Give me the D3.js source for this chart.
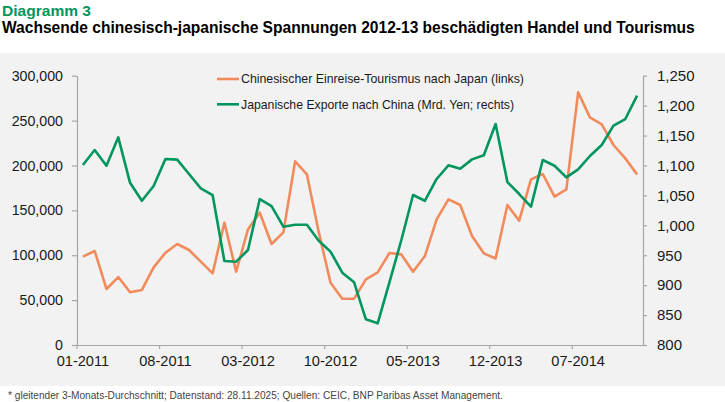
<!DOCTYPE html>
<html><head><meta charset="utf-8">
<script src="https://cdn.jsdelivr.net/npm/d3@7"></script>
<style>
html,body{margin:0;padding:0;background:#fff;}
text{font-family:"Liberation Sans",Arial,sans-serif;}
</style></head>
<body>
<svg id="c" width="725" height="402"></svg>
<script>
const months = ["01-2011","02-2011","03-2011","04-2011","05-2011","06-2011","07-2011","08-2011","09-2011","10-2011","11-2011","12-2011",
"01-2012","02-2012","03-2012","04-2012","05-2012","06-2012","07-2012","08-2012","09-2012","10-2012","11-2012","12-2012",
"01-2013","02-2013","03-2013","04-2013","05-2013","06-2013","07-2013","08-2013","09-2013","10-2013","11-2013","12-2013",
"01-2014","02-2014","03-2014","04-2014","05-2014","06-2014","07-2014","08-2014","09-2014","10-2014","11-2014","12-2014"];
const xTickLabels = ["01-2011","08-2011","03-2012","10-2012","05-2013","12-2013","07-2014"];
const tourism = [98400,104700,62400,75700,58700,61300,86500,102800,112500,105800,92800,79800,
136300,81700,128800,147400,112500,125500,204600,190000,126000,69400,51600,51600,
73100,80900,102500,101000,81700,99100,140000,162300,156000,121400,102100,96300,
156000,138500,184500,190500,165200,173400,281400,253600,245800,222800,207900,190000];
const exportsCN = [1100.7,1125.8,1099.6,1147,1071,1041,1065.6,1110.8,1109.7,1085.7,1061.8,1050.6,
940.3,939.2,958.7,1043.9,1032.2,997.7,1001,1001,974.3,956,920.9,904.7,
842.9,836.2,905,975,1050.6,1041,1077.4,1100.2,1094.6,1110.2,1117,1169.3,
1072.3,1052.3,1031.1,1109.1,1099.6,1080.1,1093.5,1115.8,1134.2,1166.5,1177.6,1216.6];
const leftTicks = [0,50000,100000,150000,200000,250000,300000];
const rightTicks = [800,850,900,950,1000,1050,1100,1150,1200,1250];
const legendLabels = ["Chinesischer Einreise-Tourismus nach Japan (links)","Japanische Exporte nach China (Mrd. Yen; rechts)"];
const titleSmall = "Diagramm 3";
const title = "Wachsende chinesisch-japanische Spannungen 2012-13 beschädigten Handel und Tourismus";
const footnote = "* gleitender 3-Monats-Durchschnitt; Datenstand: 28.11.2025; Quellen: CEIC, BNP Paribas Asset Management.";

const ORANGE = "#F28B5B", GREEN = "#00965E", AXIS = "#A6A6A6", TXT = "#1a1a1a";
const svg = d3.select("#c");

function fit(sel, target){
  const n = sel.node(); const w = n.getComputedTextLength();
  const fs = parseFloat(sel.attr("font-size"));
  sel.attr("font-size", (fs*target/w).toFixed(2));
}

// background panel
svg.append("rect").attr("x",0).attr("y",53).attr("width",725).attr("height",333).attr("fill","#F2F2F2");

// titles
fit(svg.append("text").attr("x",2).attr("y",16).attr("font-size",15).attr("font-weight","bold").attr("fill",GREEN).text(titleSmall), 89);
fit(svg.append("text").attr("x",2).attr("y",32.5).attr("font-size",15).attr("font-weight","bold").attr("fill","#000").text(title), 693);
fit(svg.append("text").attr("x",8).attr("y",399).attr("font-size",10).attr("fill","#444").text(footnote), 496);

const x = d3.scaleBand().domain(months).range([77,643]).padding(0);
const bw = x.bandwidth();
const yL = d3.scaleLinear().domain([0,300000]).range([345,75.7]);
const yR = d3.scaleLinear().domain([800,1250]).range([345,75.7]);

const fmt = d3.format(",");
const gL = svg.append("g").attr("transform","translate(77,0)")
  .call(d3.axisLeft(yL).tickValues(leftTicks).tickFormat(fmt).tickSize(5).tickSizeOuter(0).tickPadding(9));
const gR = svg.append("g").attr("transform","translate(643,0)")
  .call(d3.axisRight(yR).tickValues(rightTicks).tickFormat(fmt).tickSize(4).tickSizeOuter(0).tickPadding(10));
const gB = svg.append("g").attr("transform","translate(0,345)")
  .call(d3.axisBottom(x).tickValues(xTickLabels).tickSize(4).tickSizeOuter(0).tickPadding(7));
gB.selectAll(".tick line").attr("transform",`translate(${-bw/2},0)`);

[gL,gR,gB].forEach(g=>{
  g.selectAll("path.domain").attr("stroke",AXIS).attr("stroke-width",1.2);
  g.selectAll(".tick line").attr("stroke",AXIS).attr("stroke-width",1.2);
  g.selectAll(".tick text").attr("fill",TXT).attr("font-size",15).attr("font-family","Liberation Sans, Arial, sans-serif");
});
gL.selectAll(".tick text").attr("font-size",14.2);
gB.selectAll(".tick text").attr("font-size",14.6);

const lineT = d3.line().x((d,i)=>x(months[i])+bw/2).y(d=>yL(d));
const lineE = d3.line().x((d,i)=>x(months[i])+bw/2).y(d=>yR(d));
svg.append("path").datum(tourism).attr("d",lineT).attr("fill","none").attr("stroke",ORANGE).attr("stroke-width",2.6).attr("stroke-linejoin","round");
svg.append("path").datum(exportsCN).attr("d",lineE).attr("fill","none").attr("stroke",GREEN).attr("stroke-width",2.6).attr("stroke-linejoin","round");

// legend
const legColors = [ORANGE, GREEN];
const legY = [79, 104.3];
const legW = [283, 273];
legendLabels.forEach((lab,i)=>{
  svg.append("line").attr("x1",217).attr("x2",239).attr("y1",legY[i]).attr("y2",legY[i]).attr("stroke",legColors[i]).attr("stroke-width",2.6);
  fit(svg.append("text").attr("x",241).attr("y",legY[i]+4.2).attr("font-size",12.5).attr("fill",TXT).text(lab), legW[i]);
});
</script>
</body></html>
